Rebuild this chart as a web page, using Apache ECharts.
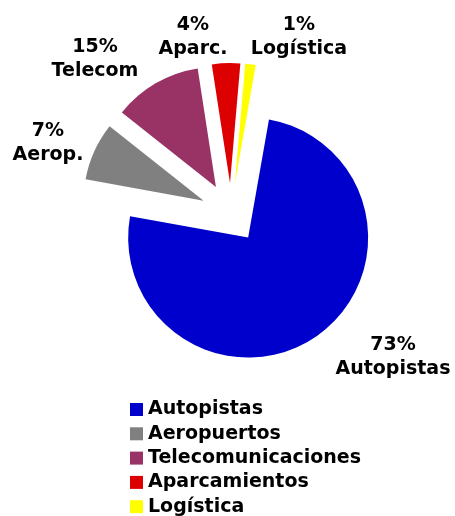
<!DOCTYPE html>
<html>
<head>
<meta charset="utf-8">
<script src="https://cdn.jsdelivr.net/npm/echarts@6/dist/echarts.min.js"></script>
<style>
  html, body { margin: 0; padding: 0; background: #fff; }
  #chart { width: 455px; height: 516px; }
</style>
</head>
<body>
<div id="chart"></div>
<script>
// datos del grafico
const categories = ['Autopistas', 'Aeropuertos', 'Telecomunicaciones', 'Aparcamientos', 'Logística'];
const shortNames = ['Autopistas', 'Aerop.', 'Telecom', 'Aparc.', 'Logística'];
// tamaño de cada sector tal como se ve dibujado
const sliceValues = [75, 7.8, 11.9, 3.8, 1.4];
// porcentajes impresos en las etiquetas
const labelPercents = ['73%', '7%', '15%', '4%', '1%'];
const colors = ['#0000CC', '#808080', '#993366', '#DD0000', '#FFFF00'];

// posicion de las etiquetas (centro del bloque de texto)
const labelPos = [[393, 357], [48, 143], [95, 59], [193, 37], [299, 37]];

const chart = echarts.init(document.getElementById('chart'));
const font = 'DejaVu Sans';

const option = {
  animation: false,
  legend: {
    orient: 'vertical',
    left: 130,
    top: 400,
    height: 150,
    padding: 0,
    icon: 'rect',
    itemWidth: 13,
    itemHeight: 13,
    itemGap: 5.3,
    textStyle: { fontFamily: font, fontWeight: 'bold', fontSize: 19, color: '#000' },
    data: categories.map((name, i) => ({ name, itemStyle: { color: colors[i] } })),
  },
  series: [
    {
      // sectores separados
      type: 'pie',
      center: [231, 213],
      radius: 120,
      startAngle: 80,
      selectedMode: 'multiple',
      selectedOffset: 30,
      data: categories.map((name, i) => ({
        name, value: sliceValues[i], selected: true, itemStyle: { color: colors[i] },
      })),
      label: { show: false },
      labelLine: { show: false },
      emphasis: { scale: false },
    },
    {
      // solo etiquetas
      type: 'pie',
      center: [231, 213],
      radius: 120,
      startAngle: 80,
      silent: true,
      data: categories.map((name, i) => ({ name, value: sliceValues[i] })),
      itemStyle: { color: 'rgba(0,0,0,0)' },
      label: {
        show: true,
        position: 'inside',
        overflow: 'none',
        fontFamily: font,
        fontWeight: 'bold',
        fontSize: 19,
        color: '#000',
        align: 'center',
        lineHeight: 24,
        formatter: p => labelPercents[p.dataIndex] + '\n' + shortNames[p.dataIndex],
      },
      labelLine: { show: false },
      labelLayout: p => ({
        x: labelPos[p.dataIndex][0],
        y: labelPos[p.dataIndex][1],
        align: 'center',
        verticalAlign: 'middle',
      }),
    },
  ],
};
chart.setOption(option);
</script>
</body>
</html>
